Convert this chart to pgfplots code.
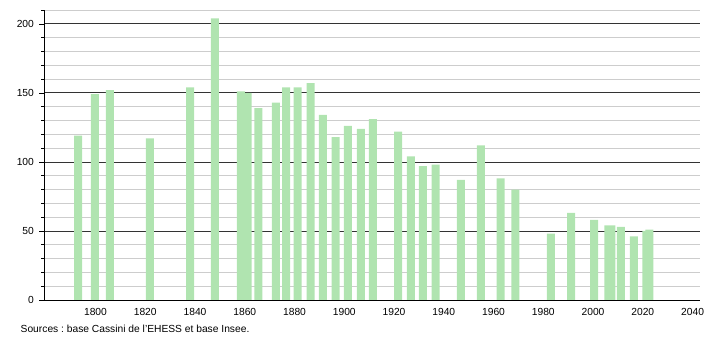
\documentclass[border=0pt]{standalone}
\usepackage{fontspec}
\setmainfont{Liberation Sans}
\usepackage{pgfplots}
\pgfplotsset{compat=1.18}
\definecolor{bargreen}{RGB}{176,228,176}
\definecolor{majgrid}{RGB}{51,51,51}
\definecolor{mingrid}{RGB}{205,205,205}
\begin{document}
\frenchspacing
\fontsize{10.3}{12}\selectfont
\begin{tikzpicture}
\useasboundingbox (0,0) rectangle (710bp,340bp);
\begin{axis}[
  at={(44bp,40bp)}, anchor=south west,
  scale only axis, width=656bp, height=290bp,
  xmin=1779.3, xmax=2043, ymin=0, ymax=210,
  axis x line*=bottom, axis y line*=left,
  axis line style={black, line width=0.8bp},
  xtick={1800,1820,...,2040},
  ytick={0,50,...,200},
  minor ytick={10,20,30,40,60,70,80,90,110,120,130,140,160,170,180,190,210},
  ymajorgrids, yminorgrids,
  major grid style={majgrid, line width=0.8bp},
  minor grid style={mingrid, line width=0.8bp},
  tick align=outside,
  major tick length=5bp, minor tick length=3bp,
  tick style={black, line width=0.6bp},
  major x tick style={draw=none},
  /pgf/number format/assume math mode=true,
  /pgf/number format/1000 sep={},
  tick label style={font=\fontsize{10.3}{12}\selectfont},
  yticklabel style={xshift=-1.5bp},
  ybar, bar width=8bp,
]
\addplot[draw=none, fill=bargreen] coordinates {
(1793.0,119) (1799.8,149) (1805.8,152) (1821.9,117) (1838.0,154) (1848.0,204)
(1858.4,151) (1861.2,150) (1865.5,139) (1872.5,143) (1876.6,154) (1881.3,154)
(1886.5,157) (1891.4,134) (1896.5,118) (1901.5,126) (1906.7,124) (1911.5,131)
(1921.6,122) (1926.8,104) (1931.6,97) (1936.7,98) (1946.9,87) (1954.9,112)
(1962.9,88) (1968.8,80) (1983.1,48) (1991.2,63) (2000.4,58) (2006.2,54)
(2007.4,54) (2011.2,53) (2016.4,46) (2021.4,50) (2022.6,51)
};
\end{axis}
\node[anchor=base west, inner sep=0pt] at (20.5bp,7.3bp) {Sources : base Cassini de l'EHESS et base Insee.};
\end{tikzpicture}
\end{document}
